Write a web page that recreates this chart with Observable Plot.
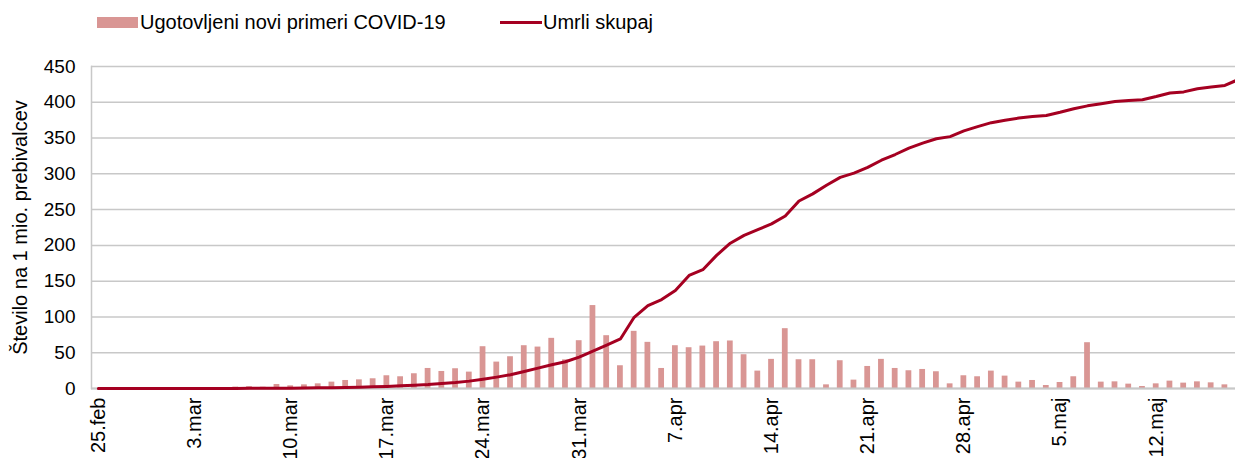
<!DOCTYPE html>
<html>
<head>
<meta charset="utf-8">
<script src="https://cdn.jsdelivr.net/npm/d3@7"></script>
<script src="https://cdn.jsdelivr.net/npm/@observablehq/plot@0.6"></script>
<style>
html, body { margin: 0; padding: 0; background: #fff; overflow: hidden; width: 1235px; height: 458px; }
body { font-family: "Liberation Sans", Arial, sans-serif; color: #000; }
#legend { position: relative; height: 40px; width: 1235px; }
#legend .lbl { position: absolute; top: 9px; font-size: 20px; line-height: 26px; white-space: nowrap; }
</style>
</head>
<body>
<div id="legend"></div>
<div id="chart"></div>
<script>
// categories (days, 2020)
const dates = [
  "25.feb","26.feb","27.feb","28.feb","29.feb",
  "1.mar","2.mar","3.mar","4.mar","5.mar","6.mar","7.mar","8.mar","9.mar","10.mar",
  "11.mar","12.mar","13.mar","14.mar","15.mar","16.mar","17.mar","18.mar","19.mar","20.mar",
  "21.mar","22.mar","23.mar","24.mar","25.mar","26.mar","27.mar","28.mar","29.mar","30.mar","31.mar",
  "1.apr","2.apr","3.apr","4.apr","5.apr","6.apr","7.apr","8.apr","9.apr","10.apr",
  "11.apr","12.apr","13.apr","14.apr","15.apr","16.apr","17.apr","18.apr","19.apr","20.apr",
  "21.apr","22.apr","23.apr","24.apr","25.apr","26.apr","27.apr","28.apr","29.apr","30.apr",
  "1.maj","2.maj","3.maj","4.maj","5.maj","6.maj","7.maj","8.maj","9.maj","10.maj",
  "11.maj","12.maj","13.maj","14.maj","15.maj","16.maj","17.maj","18.maj"
];

// Ugotovljeni novi primeri COVID-19 (per 1 mio. inhabitants)
const cases = [
  0, 0.1, 0.3, 0.3, 0.2,
  0.4, 0.9, 0.3, 0.8, 1.2, 2, 2.5, 1.8, 5.6, 3.7,
  5.1, 6.5, 8.9, 11.2, 12.1, 13.6, 17.8, 16.4, 20.6, 28,
  23.8, 27.6, 22.9, 58.4, 36.9, 44.4, 59.8, 57.9, 70.1, 40, 66.8,
  115.9, 73.8, 31.8, 79.9, 64.5, 28, 59.8, 57, 59.3, 65.4,
  66.4, 47.2, 24.3, 40.7, 83.6, 40.2, 40.2, 5.1, 38.8, 11.7,
  30.8, 40.7, 28, 24.8, 26.6, 23.4, 6.5, 17.8, 16.4, 24.3,
  17.3, 8.9, 11.2, 4.2, 8.4, 16.4, 64, 8.9, 9.3, 6.1,
  2.8, 6.5, 10.3, 7.5, 9.3, 7.9, 5.1, null
];

// Umrli skupaj (cumulative deaths per 1 mio. inhabitants)
const deaths = [
  0, 0, 0, 0, 0,
  0, 0, 0, 0.1, 0.1, 0.1, 0.2, 0.3, 0.4, 0.5,
  0.7, 0.9, 1.2, 1.4, 1.9, 2.3, 2.8, 3.7, 4.7, 5.6,
  7, 8.4, 10.3, 13, 15.9, 19.2, 23.8, 28.5, 33.2, 37.4, 43.9,
  52.3, 60.7, 69.2, 99.5, 115.9, 124.3, 137, 158, 166, 186,
  203, 214, 222, 230, 241, 262, 272, 284, 295, 301,
  309, 319, 327, 336, 343, 349, 352, 360, 366, 371.5,
  375, 378, 380, 381.5, 386, 391, 395, 398, 401, 402.5,
  403.5, 408, 413, 414.5, 419, 421.5, 423.5, 432
];

const xTicks = ["25.feb","3.mar","10.mar","17.mar","24.mar","31.mar","7.apr","14.apr","21.apr","28.apr","5.maj","12.maj"];
const yTicks = [0, 50, 100, 150, 200, 250, 300, 350, 400, 450];

const seriesNames = ["Ugotovljeni novi primeri COVID-19", "Umrli skupaj"];
const barColor = "#D99694";
const lineColor = "#A50021";
const yLabel = "Število na 1 mio. prebivalcev";

// legend
const legend = document.getElementById("legend");
legend.innerHTML =
  `<div style="position:absolute;left:97px;top:17px;width:41px;height:11px;background:${barColor}"></div>` +
  `<div class="lbl" style="left:140px">${seriesNames[0]}</div>` +
  `<div style="position:absolute;left:500px;top:21px;width:42px;height:3px;background:${lineColor}"></div>` +
  `<div class="lbl" style="left:543px">${seriesNames[1]}</div>`;

const data = dates.map((d, i) => ({date: d, cases: cases[i], deaths: deaths[i]}));

const chart = Plot.plot({
  width: 1235,
  height: 418,
  marginLeft: 91,
  marginRight: 0,
  marginTop: 26,
  marginBottom: 70,
  style: {fontFamily: "'Liberation Sans', Arial, sans-serif", fontSize: "19px", color: "#000", background: "#fff", overflow: "hidden"},
  x: {type: "band", domain: dates, range: [91, 1245], paddingInner: 0.58, paddingOuter: 0.29, ticks: xTicks, tickSize: 0, tickPadding: 9, tickRotate: -90, label: null},
  y: {domain: [0, 450], ticks: yTicks, tickSize: 0, tickPadding: 16, label: null},
  marks: [
    Plot.gridY(yTicks, {stroke: "#c8c8c8", strokeOpacity: 1, strokeWidth: 1.5}),
    Plot.barY(data, {x: "date", y: "cases", fill: barColor}),
    Plot.frame({anchor: "left", stroke: "#c8c8c8", strokeWidth: 1.5}),
    Plot.ruleY([0], {stroke: "#c8c8c8", strokeWidth: 2}),
    Plot.lineY(data, {x: "date", y: "deaths", stroke: lineColor, strokeWidth: 3}),
    Plot.axisX(xTicks, {tickSize: 0, tickPadding: 9, tickRotate: -90, fontSize: 20, label: null}),
    Plot.text([yLabel], {frameAnchor: "left", dx: -71, rotate: -90, textAnchor: "middle", fontSize: 20, fill: "#000"})
  ]
});
document.getElementById("chart").appendChild(chart);
</script>
</body>
</html>
